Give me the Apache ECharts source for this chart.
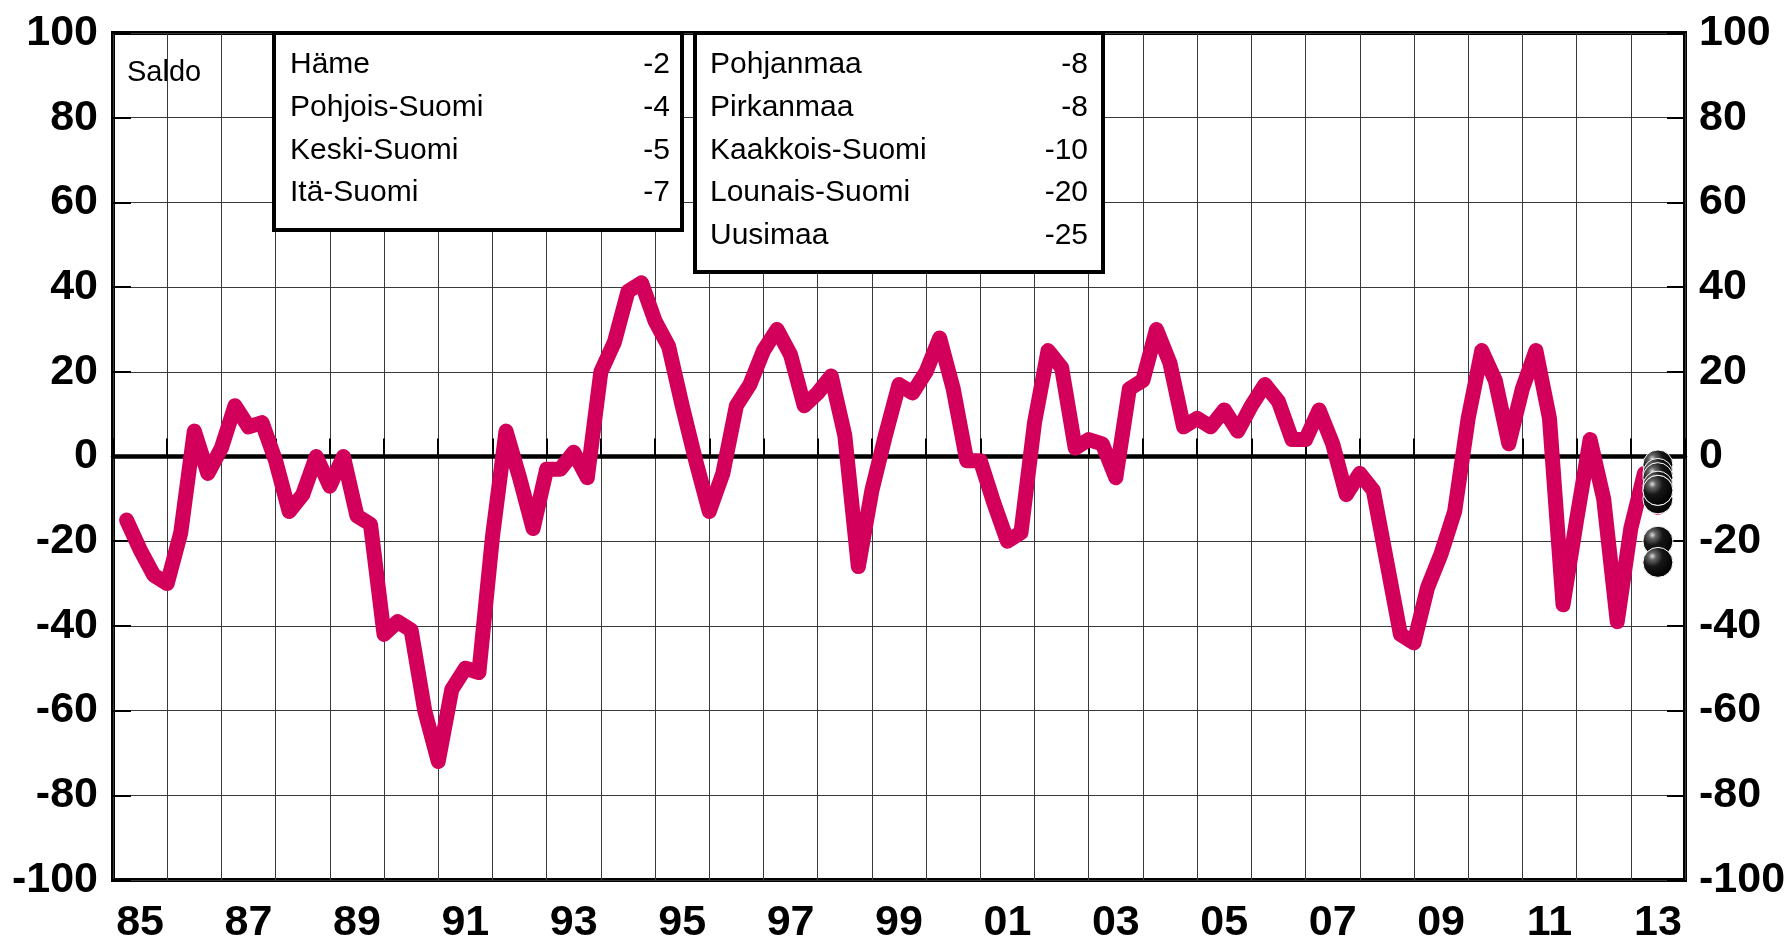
<!DOCTYPE html>
<html>
<head>
<meta charset="utf-8">
<script src="https://cdn.jsdelivr.net/npm/echarts@6/dist/echarts.min.js"></script>
<style>
html,body{margin:0;padding:0;background:#fff;}
#chart{width:1792px;height:945px;}
</style>
</head>
<body>
<div id="chart"></div>
<script>
// Year categories (tick labels on x axis)
const yearLabels = ['85','86','87','88','89','90','91','92','93','94','95','96','97','98','99',
  '00','01','02','03','04','05','06','07','08','09','10','11','12','13'];
const firstYear = 1985;

// Quarterly saldo, 1985 Q1 ... 2013 Q2
const saldo = [
  -15,-22,-28,-30,   // 1985
  -18,6,-4,2,        // 1986
  12,7,8,-1,         // 1987
  -13,-9,0,-7,       // 1988
  0,-14,-16,-42,     // 1989
  -39,-41,-60,-72,   // 1990
  -55,-50,-51,-19,   // 1991
  6,-5,-17,-3,       // 1992
  -3,1,-5,20,        // 1993
  27,39,41,32,       // 1994
  26,12,-1,-13,      // 1995
  -4,12,17,25,       // 1996
  30,24,12,15,       // 1997
  19,5,-26,-8,       // 1998
  5,17,15,20,        // 1999
  28,16,-1,-1,       // 2000
  -11,-20,-18,8,     // 2001
  25,21,2,4,         // 2002
  3,-5,16,18,        // 2003
  30,22,7,9,         // 2004
  7,11,6,12,         // 2005
  17,13,4,4,         // 2006
  11,3,-9,-4,        // 2007
  -8,-25,-42,-44,    // 2008
  -31,-23,-13,9,     // 2009
  25,18,3,16,        // 2010
  25,9,-35,-15,      // 2011
  4,-10,-39,-17,     // 2012
  -4,-12             // 2013
];

// Regional latest values
const box1Names = ['Häme','Pohjois-Suomi','Keski-Suomi','Itä-Suomi'];
const box1Values = [-2,-4,-5,-7];
const box2Names = ['Pohjanmaa','Pirkanmaa','Kaakkois-Suomi','Lounais-Suomi','Uusimaa'];
const box2Values = [-8,-8,-10,-20,-25];
const regionTime = 2013.5;
// drawing order of the box-2 dots (later ones are drawn on top)
const box2DrawOrder = [2,0,1,3,4];

const yTicks = {min:-100, max:100, interval:20};

// Build series data
const lineData = saldo.map((v,i) => [firstYear + 0.25 + i*0.25, v]);
const dotValues = box1Values.concat(box2DrawOrder.map(k => box2Values[k]));
const dotData = dotValues.map(v => [regionTime, v]);

const FONT = "'Liberation Sans', Arial, sans-serif";
const RED = '#D2005A';

const graphics = [];
function addBox(x, y, w, h, names, values, textLeft, textRight, rowTop, rowStep) {
  graphics.push({type:'rect', shape:{x:x, y:y, width:w, height:h},
    style:{fill:'#fff', stroke:'#000', lineWidth:4}, z:10});
  names.forEach((n,i) => {
    graphics.push({type:'text', x:textLeft, y:rowTop + i*rowStep, z:11,
      style:{text:n, font:'30px ' + FONT, fill:'#000', textAlign:'left', textVerticalAlign:'middle'}});
    graphics.push({type:'text', x:textRight, y:rowTop + i*rowStep, z:11,
      style:{text:String(values[i]), font:'30px ' + FONT, fill:'#000', textAlign:'right', textVerticalAlign:'middle'}});
  });
}
addBox(274, 33, 408, 197, box1Names, box1Values, 290, 670, 65, 42.7);
addBox(695, 33, 408, 239, box2Names, box2Values, 710, 1088, 65, 42.7);
graphics.push({type:'text', x:127, y:73, z:11,
  style:{text:'Saldo', font:'29px ' + FONT, fill:'#000', textAlign:'left', textVerticalAlign:'middle'}});

const chart = echarts.init(document.getElementById('chart'), null, {renderer:'canvas'});
chart.setOption({
  animation: false,
  backgroundColor: '#fff',
  grid: {left:113, right:107, top:33, bottom:61, show:true, borderColor:'#000', borderWidth:4, backgroundColor:'transparent'},
  xAxis: [
    {
      type:'category', data: yearLabels, boundaryGap:true, position:'bottom',
      axisLine:{show:false},
      axisTick:{show:true, inside:true, length:18, interval:0, lineStyle:{color:'#000', width:2}},
      axisLabel:{interval:1, fontSize:43, fontWeight:'bold', fontFamily:FONT, color:'#000', margin:22},
      splitLine:{show:true, interval:0, lineStyle:{color:'#3a3a3a', width:1}}
    },
    {
      type:'value', min:firstYear, max:firstYear + yearLabels.length, position:'bottom',
      axisLine:{show:true, onZero:true, lineStyle:{color:'#000', width:4.5}},
      axisTick:{show:false}, axisLabel:{show:false}, splitLine:{show:false}
    }
  ],
  yAxis: [
    {
      type:'value', min:yTicks.min, max:yTicks.max, interval:yTicks.interval, position:'left',
      axisLine:{show:false},
      axisTick:{show:true, inside:true, length:18, lineStyle:{color:'#000', width:2}},
      axisLabel:{fontSize:43, fontWeight:'bold', fontFamily:FONT, color:'#000', margin:15},
      splitLine:{show:true, lineStyle:{color:'#3a3a3a', width:1}}
    },
    {
      type:'value', min:yTicks.min, max:yTicks.max, interval:yTicks.interval, position:'right',
      axisLine:{show:false},
      axisTick:{show:true, inside:true, length:18, lineStyle:{color:'#000', width:2}},
      axisLabel:{fontSize:43, fontWeight:'bold', fontFamily:FONT, color:'#000', margin:14},
      splitLine:{show:false}
    }
  ],
  series: [
    {
      type:'line', xAxisIndex:1, yAxisIndex:0, data: lineData, symbol:'none',
      lineStyle:{color:RED, width:15, cap:'round', join:'round'}, z:3
    },
    {
      type:'scatter', xAxisIndex:1, yAxisIndex:0, data: dotData, symbol:'circle', symbolSize:30, z:5,
      itemStyle:{
        color: new echarts.graphic.RadialGradient(0.32, 0.3, 0.75, [
          {offset:0, color:'#e0e0e0'}, {offset:0.16, color:'#666'}, {offset:0.45, color:'#161616'}, {offset:1, color:'#000'}
        ]),
        borderColor:'#fff', borderWidth:1, opacity:1
      }
    }
  ],
  graphic: graphics
});
</script>
</body>
</html>
